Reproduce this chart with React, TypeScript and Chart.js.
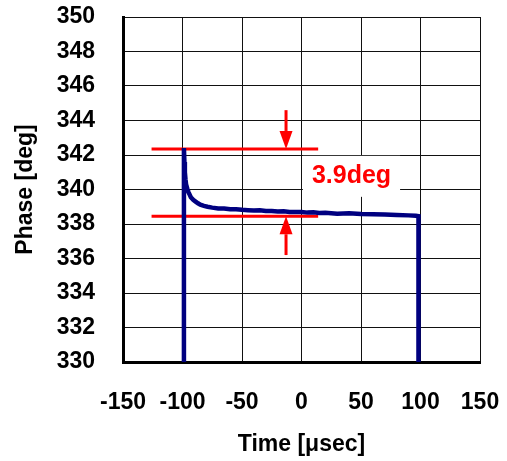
import React, { useEffect, useRef } from "react";
import { Chart, registerables } from "chart.js";

Chart.register(...registerables);

// ---- data ----
const X_MIN = -150;
const X_MAX = 150;
const X_STEP = 50;
const Y_MIN = 330;
const Y_MAX = 350;
const Y_STEP = 2;

const traceTime = [
  -98.8, -98.8, -98.4, -98, -97.5, -97, -96, -95, -94, -93, -91, -89, -87, -85, -82, -79, -75, -70,
  -65, -60, -55, -50, -45, -40, -35, -30, -25, -20, -15, -10, -5, 0, 5, 10, 15, 20, 30, 40, 50, 60,
  70, 80, 90, 96, 98.3, 98.3,
];
const tracePhase = [
  330, 342.4, 341.6, 341.0, 340.6, 340.3, 340.05, 339.85, 339.7, 339.55, 339.4, 339.3, 339.2, 339.12,
  339.05, 339.0, 338.95, 338.9, 338.9, 338.85, 338.85, 338.82, 338.8, 338.78, 338.8, 338.75, 338.76,
  338.72, 338.74, 338.7, 338.7, 338.7, 338.66, 338.68, 338.64, 338.65, 338.6, 338.62, 338.58, 338.56,
  338.55, 338.52, 338.5, 338.48, 338.45, 330,
];

const markerTime = [-126, 14];
const upperLevel = 342.35;
const lowerLevel = 338.45;

const arrowTime = -13;
const upperArrowFrom = 344.6;
const lowerArrowFrom = 336.2;

const labelText = "3.9deg";
const labelTime = 42;
const labelPhase = 340.85;

const FONT = "'Liberation Sans', Arial, Helvetica, sans-serif";

const annotationPlugin = {
  id: "annotations",
  afterDatasetsDraw(chart: any) {
    const { ctx, scales } = chart;
    const xs = scales.x;
    const ys = scales.y;
    ctx.save();
    const drawArrow = (x: number, fromV: number, toV: number) => {
      const px = xs.getPixelForValue(x);
      const p0 = ys.getPixelForValue(fromV);
      const p1 = ys.getPixelForValue(toV);
      const dir = p1 > p0 ? 1 : -1;
      const headLen = 18;
      const headHalf = 6.5;
      ctx.strokeStyle = "#ff0000";
      ctx.fillStyle = "#ff0000";
      ctx.lineWidth = 3;
      ctx.beginPath();
      ctx.moveTo(px, p0);
      ctx.lineTo(px, p1 - dir * headLen);
      ctx.stroke();
      ctx.beginPath();
      ctx.moveTo(px, p1);
      ctx.lineTo(px - headHalf, p1 - dir * headLen);
      ctx.lineTo(px + headHalf, p1 - dir * headLen);
      ctx.closePath();
      ctx.fill();
    };
    drawArrow(arrowTime, upperArrowFrom, upperLevel);
    drawArrow(arrowTime, lowerArrowFrom, lowerLevel);

    const lx = xs.getPixelForValue(labelTime);
    const ly = ys.getPixelForValue(labelPhase);
    ctx.font = `bold 25px ${FONT}`;
    const w = ctx.measureText(labelText).width;
    ctx.fillStyle = "#ffffff";
    ctx.fillRect(lx - w / 2 - 9, ly - 19, w + 18, 41);
    ctx.fillStyle = "#ff0000";
    ctx.textAlign = "center";
    ctx.textBaseline = "middle";
    ctx.fillText(labelText, lx, ly + 1);
    ctx.restore();
  },
};

export default function App() {
  const ref = useRef<HTMLCanvasElement>(null);

  useEffect(() => {
    if (!ref.current) return;
    const trace = traceTime.map((t, i) => ({ x: t, y: tracePhase[i] }));
    const upper = markerTime.map((t) => ({ x: t, y: upperLevel }));
    const lower = markerTime.map((t) => ({ x: t, y: lowerLevel }));

    const tickFont = { family: FONT, size: 23, weight: "bold" as const };

    const chart = new Chart(ref.current, {
      type: "scatter",
      data: {
        datasets: [
          { data: upper, showLine: true, borderColor: "#ff0000", borderWidth: 3, pointRadius: 0, order: 2 },
          { data: lower, showLine: true, borderColor: "#ff0000", borderWidth: 3, pointRadius: 0, order: 2 },
          {
            data: trace,
            showLine: true,
            borderColor: "#000080",
            borderWidth: 4.5,
            pointRadius: 0,
            tension: 0,
            order: 1,
          },
        ],
      },
      options: {
        responsive: false,
        animation: false,
        devicePixelRatio: 1,
        layout: { padding: { left: 0, top: 17, right: 27, bottom: 0 } },
        plugins: {
          legend: { display: false },
          tooltip: { enabled: false },
        },
        scales: {
          x: {
            type: "linear",
            min: X_MIN,
            max: X_MAX,
            ticks: { stepSize: X_STEP, font: tickFont, color: "#000", padding: 0 },
            grid: {
              color: "#111",
              lineWidth: 1,
              drawTicks: true,
              tickLength: 27,
              tickColor: "rgba(0,0,0,0)",
            },
            border: { color: "#000", width: 3 },
            title: {
              display: true,
              text: "Time [μsec]",
              font: tickFont,
              color: "#000",
              padding: { top: 0, bottom: 3 },
            },
            afterFit: (s: any) => {
              s.height = 99;
            },
          },
          y: {
            type: "linear",
            min: Y_MIN,
            max: Y_MAX,
            ticks: { stepSize: Y_STEP, font: tickFont, color: "#000", padding: 0 },
            grid: {
              color: "#111",
              lineWidth: 1,
              drawTicks: true,
              tickLength: 28,
              tickColor: "rgba(0,0,0,0)",
            },
            border: { color: "#000", width: 3 },
            title: {
              display: true,
              text: "Phase [deg]",
              font: tickFont,
              color: "#000",
              padding: { top: 12, bottom: 0 },
            },
            afterFit: (s: any) => {
              s.width = 123;
            },
          },
        },
      },
      plugins: [annotationPlugin],
    });
    return () => chart.destroy();
  }, []);

  return (
    <div style={{ position: "absolute", left: 0, top: 0, width: 507, height: 461, background: "#fff" }}>
      <canvas ref={ref} width={507} height={461} />
    </div>
  );
}
